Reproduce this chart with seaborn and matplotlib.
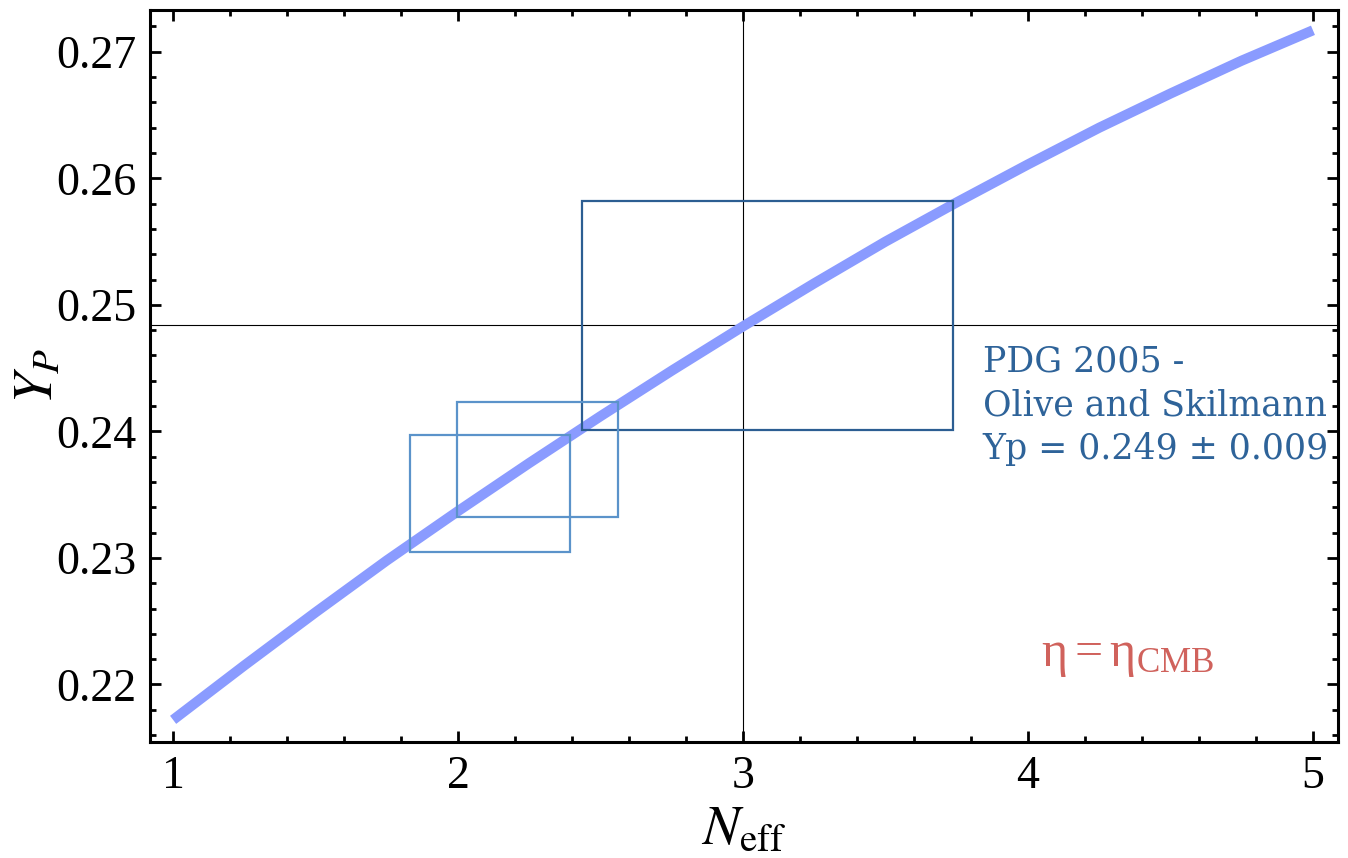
import numpy as np
import pandas as pd
import matplotlib
matplotlib.use("Agg")
import matplotlib.pyplot as plt
from matplotlib.patches import Rectangle
from matplotlib.ticker import MultipleLocator
import seaborn as sns

# ---- data ----
neff = [1.00, 1.25, 1.50, 1.75, 2.00, 2.25, 2.50, 2.75, 3.00,
        3.25, 3.50, 3.75, 4.00, 4.25, 4.50, 4.75, 5.00]
yp = [0.2172, 0.2215, 0.2257, 0.2298, 0.2337, 0.2375, 0.2412, 0.2448, 0.2483,
      0.2517, 0.2550, 0.2581, 0.2611, 0.2640, 0.2667, 0.2693, 0.2717]

# boxes: (x0, x1, y0, y1)
box_x0 = [2.435, 1.832, 1.996]
box_x1 = [3.737, 2.393, 2.561]
box_y0 = [0.2401, 0.2305, 0.2332]
box_y1 = [0.2582, 0.2397, 0.2423]
box_colors = ["#2C5E92", "#5B93CA", "#5B93CA"]

cross_x = 3.0
cross_y = 0.2484

xticks = [1, 2, 3, 4, 5]
yticks = [0.22, 0.23, 0.24, 0.25, 0.26, 0.27]

annot_text = "PDG 2005 -\nOlive and Skilmann\nYp = 0.249 \u00b1 0.009"
eta_text = r"$\mathregular{\eta = \eta_{CMB}}$"

sns.set_theme(style="ticks")
plt.rcParams["font.family"] = ["Liberation Serif", "DejaVu Serif"]
plt.rcParams["mathtext.fontset"] = "stix"

fig = plt.figure(figsize=(13.48, 8.58), dpi=100)
ax = fig.add_axes([0.1113, 0.1352, 0.8813, 0.8531])

df = pd.DataFrame({"Neff": neff, "Yp": yp})
sns.lineplot(data=df, x="Neff", y="Yp", ax=ax, color="#8A9BFF", linewidth=7.3,
             solid_capstyle="butt", solid_joinstyle="round", zorder=2)

for x0, x1, y0, y1, c in zip(box_x0, box_x1, box_y0, box_y1, box_colors):
    ax.add_patch(Rectangle((x0, y0), x1 - x0, y1 - y0, fill=False,
                           edgecolor=c, linewidth=1.6, zorder=3))

ax.axvline(cross_x, color="black", linewidth=0.8, zorder=1)
ax.axhline(cross_y, color="black", linewidth=0.8, zorder=1)

ax.set_xlim(0.919, 5.088)
ax.set_ylim(0.21545, 0.2733)
ax.set_xticks(xticks)
ax.set_xticklabels([str(t) for t in xticks])
ax.set_yticks(yticks)
ax.set_yticklabels([f"{t:.2f}" for t in yticks])
ax.xaxis.set_minor_locator(MultipleLocator(0.2))
ax.yaxis.set_minor_locator(MultipleLocator(0.002))
ax.tick_params(which="both", direction="in", top=True, right=True,
               width=2, color="black", labelcolor="black")
ax.tick_params(which="major", length=8, labelsize=33, pad=10)
ax.tick_params(which="minor", length=4)
for s in ax.spines.values():
    s.set_linewidth(2.2)
    s.set_color("black")

ax.set_xlabel(r"$N_{\mathrm{eff}}$", fontsize=40, labelpad=4, color="black")
ax.set_ylabel(r"$Y_P$", fontsize=40, labelpad=-6, color="black")

fig.text(0.729, 0.598, annot_text,
         fontsize=25, color="#2E6399", family="DejaVu Serif",
         ha="left", va="top", linespacing=1.36)
fig.text(0.8368, 0.236, eta_text,
         fontsize=36, color="#D0625C", ha="center", va="center")

fig.savefig("out.png", dpi=100)
